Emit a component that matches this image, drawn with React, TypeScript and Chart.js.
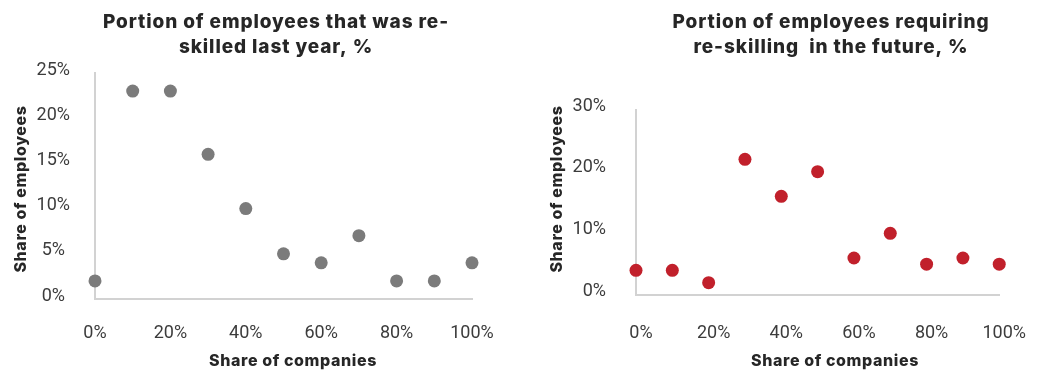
import React, { useEffect, useRef } from "react";
import { Chart, registerables } from "chart.js";

Chart.register(...registerables);

// Shared x values: share of companies, in percent
const companyShare = [0, 10, 20, 30, 40, 50, 60, 70, 80, 90, 100];
// Share of employees re-skilled last year, in percent
const reskilledLastYear = [2, 23, 23, 16, 10, 5, 4, 7, 2, 2, 4];
// Share of employees requiring re-skilling in the future, in percent
const reskillingFuture = [4, 4, 2, 22, 16, 20, 6, 10, 5, 6, 5];

const xTickValues = [0, 20, 40, 60, 80, 100];
const yTicksLastYear = [0, 5, 10, 15, 20, 25];
const yTicksFuture = [0, 10, 20, 30];

const titleLastYear = ["Portion of employees that was re-", "skilled last year, %"];
const titleFuture = ["Portion of employees requiring", "re-skilling  in the future, %"];
const xAxisTitle = "Share of companies";
const yAxisTitle = "Share of employees";

const TEXT_DARK = "#262626";
const TICK_COLOR = "#3c3c3c";
const AXIS_COLOR = "#d2d2d2";
const HEAVY_FAMILY = "Inter, Roboto, 'Noto Sans', sans-serif";
const TICK_FONT = { family: "Roboto, 'Noto Sans', sans-serif", size: 18, weight: "normal" as const };

type PanelSpec = {
  left: number;
  width: number;
  values: number[];
  color: string;
  yTicks: number[];
  yMax: number;
  title: string[];
  // layout of the plot box inside the canvas
  yScaleWidth: number;
  xScaleHeight: number;
  padTop: number;
  padRight: number;
  yTickPadding: number;
  yCrossAlign: "near" | "center" | "far";
  yLabelOffset: number;
  xTickPadding: number;
  xLabelOffset: number;
  // text placement
  titleX: number;
  xTitleX: number;
  yTitleX: number;
};

function makeTextPlugin(spec: PanelSpec) {
  return {
    id: "panelText",
    afterDraw(chart: Chart) {
      const ctx = chart.ctx as CanvasRenderingContext2D & { letterSpacing?: string };
      ctx.save();
      ctx.fillStyle = TEXT_DARK;
      ctx.textAlign = "center";
      ctx.textBaseline = "alphabetic";

      ctx.font = `800 19px ${HEAVY_FAMILY}`;
      ctx.letterSpacing = "0.9px";
      spec.title.forEach((line, i) => ctx.fillText(line, spec.titleX, 28 + i * 25));

      ctx.font = `800 16px ${HEAVY_FAMILY}`;
      ctx.letterSpacing = "0.6px";
      ctx.fillText(xAxisTitle, spec.xTitleX, 366);

      ctx.translate(spec.yTitleX, 189);
      ctx.rotate(-Math.PI / 2);
      ctx.fillText(yAxisTitle, 0, 0);
      ctx.restore();
    },
  };
}

function Panel({ spec }: { spec: PanelSpec }) {
  const ref = useRef<HTMLCanvasElement>(null);

  useEffect(() => {
    const canvas = ref.current;
    if (!canvas) return;
    const chart = new Chart(canvas, {
      type: "scatter",
      data: {
        datasets: [
          {
            data: companyShare.map((x, i) => ({ x, y: spec.values[i] })),
            backgroundColor: spec.color,
            borderColor: spec.color,
            pointRadius: 6.5,
            pointHoverRadius: 6.5,
            pointBorderWidth: 0,
            clip: false,
          },
        ],
      },
      options: {
        animation: false,
        responsive: false,
        devicePixelRatio: 1,
        layout: { padding: { top: spec.padTop, right: spec.padRight, left: 0, bottom: 0 } },
        plugins: {
          legend: { display: false },
          tooltip: { enabled: false },
          title: { display: false },
        },
        scales: {
          x: {
            type: "linear",
            min: 0,
            max: 100,
            afterBuildTicks: (scale: any) => {
              scale.ticks = xTickValues.map((v) => ({ value: v }));
            },
            afterFit: (scale: any) => {
              scale.height = spec.xScaleHeight;
            },
            grid: { display: false },
            border: { display: true, color: AXIS_COLOR, width: 2 },
            ticks: {
              font: TICK_FONT,
              color: TICK_COLOR,
              padding: spec.xTickPadding,
              labelOffset: spec.xLabelOffset,
              maxRotation: 0,
              autoSkip: false,
              callback: (v: any) => `${v}%`,
            },
          },
          y: {
            type: "linear",
            min: 0,
            max: spec.yMax,
            afterBuildTicks: (scale: any) => {
              scale.ticks = spec.yTicks.map((v) => ({ value: v }));
            },
            afterFit: (scale: any) => {
              scale.width = spec.yScaleWidth;
            },
            grid: { display: false },
            border: { display: true, color: AXIS_COLOR, width: 2 },
            ticks: {
              font: TICK_FONT,
              color: TICK_COLOR,
              padding: spec.yTickPadding,
              crossAlign: spec.yCrossAlign,
              labelOffset: spec.yLabelOffset,
              autoSkip: false,
              callback: (v: any) => `${v}%`,
            },
          },
        },
      },
      plugins: [makeTextPlugin(spec)],
    });
    return () => chart.destroy();
  }, [spec]);

  return (
    <div style={{ position: "absolute", left: spec.left, top: 0, width: spec.width, height: 372 }}>
      <canvas ref={ref} width={spec.width} height={372} style={{ display: "block" }} />
    </div>
  );
}

const panels: PanelSpec[] = [
  {
    left: 0,
    width: 520,
    values: reskilledLastYear,
    color: "#7b7b7b",
    yTicks: yTicksLastYear,
    yMax: 25,
    title: titleLastYear,
    yScaleWidth: 95,
    xScaleHeight: 73,
    padTop: 73,
    padRight: 48,
    yTickPadding: 17,
    yCrossAlign: "center",
    yLabelOffset: -3,
    xTickPadding: 16,
    xLabelOffset: 0,
    titleX: 276,
    xTitleX: 293,
    yTitleX: 26,
  },
  {
    left: 520,
    width: 521,
    values: reskillingFuture,
    color: "#c1202b",
    yTicks: yTicksFuture,
    yMax: 30,
    title: titleFuture,
    yScaleWidth: 116,
    xScaleHeight: 77,
    padTop: 110,
    padRight: 30,
    yTickPadding: 22,
    yCrossAlign: "near",
    yLabelOffset: -4,
    xTickPadding: 20,
    xLabelOffset: 5,
    titleX: 311,
    xTitleX: 315,
    yTitleX: 42,
  },
];

export default function App() {
  return (
    <div style={{ position: "absolute", left: 0, top: 0, width: 1041, height: 372, background: "#ffffff" }}>
      {panels.map((p, i) => (
        <Panel key={i} spec={p} />
      ))}
    </div>
  );
}
